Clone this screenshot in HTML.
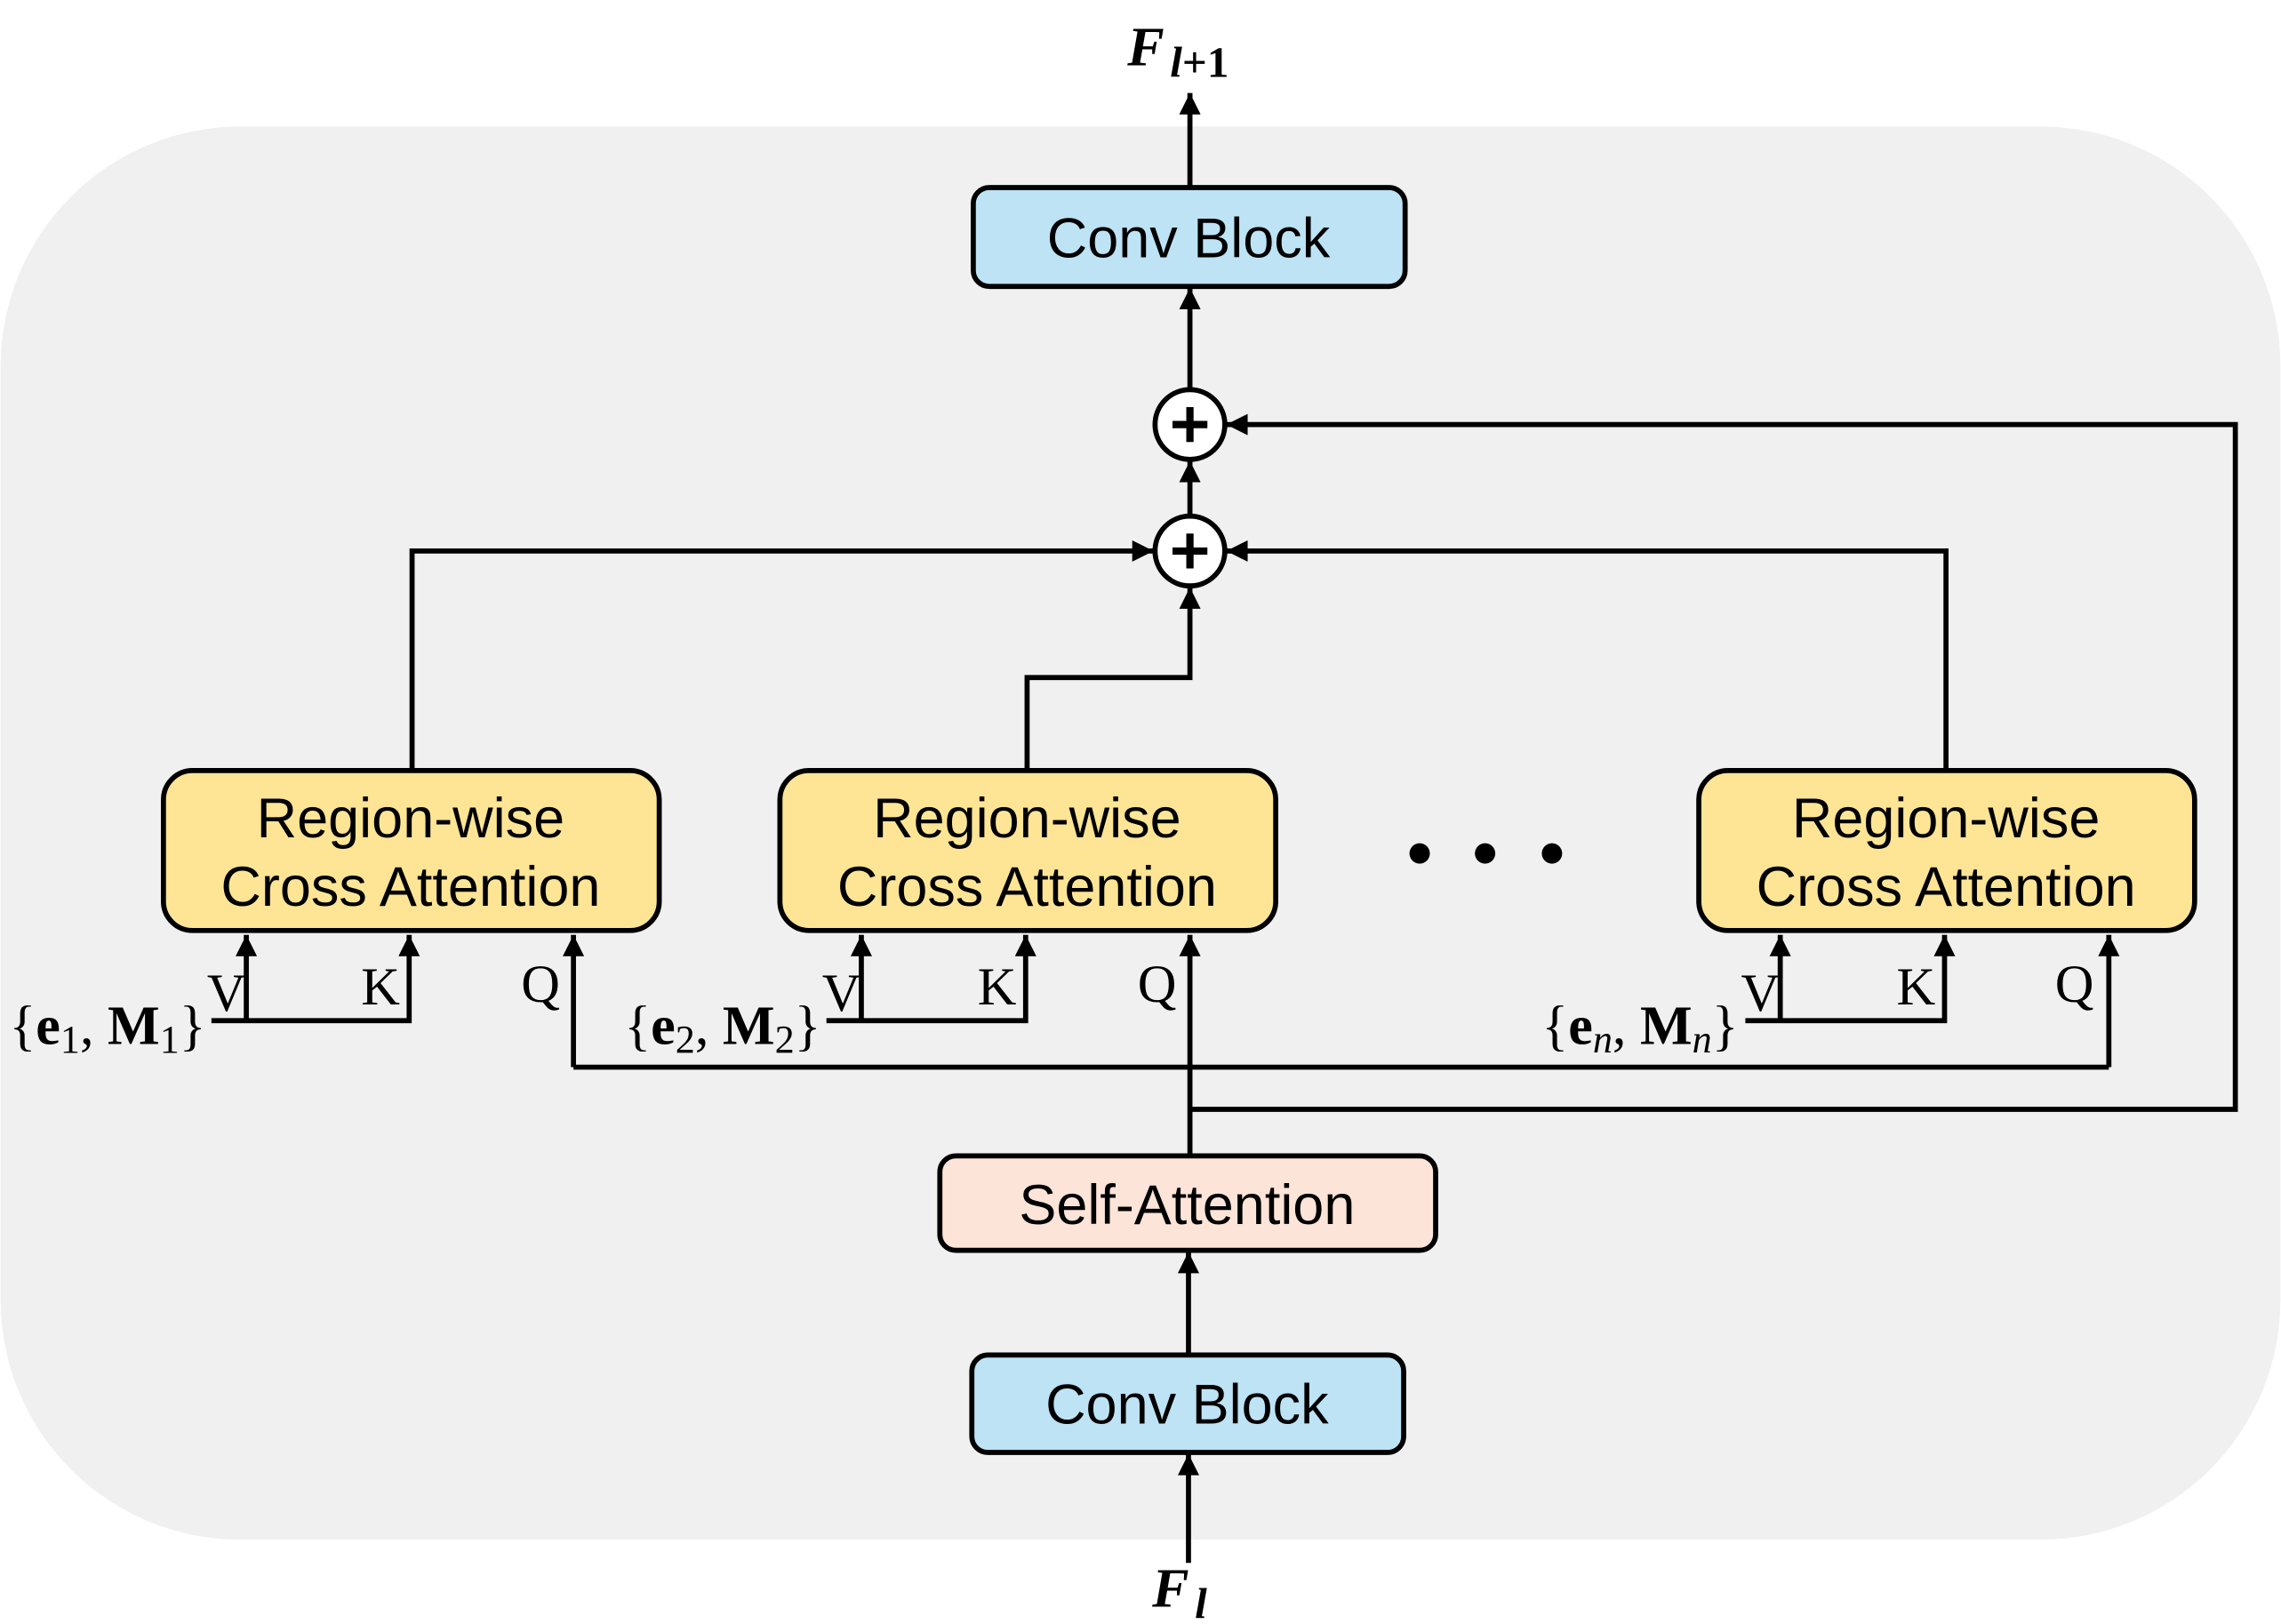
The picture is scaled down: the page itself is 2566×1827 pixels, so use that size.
<!DOCTYPE html>
<html><head><meta charset="utf-8"><style>
html,body{margin:0;padding:0;background:#fff;}
svg{display:block;}
.s{font-family:"Liberation Sans",sans-serif;font-size:38.5px;fill:#000;}
.m{font-family:"Liberation Serif",serif;fill:#000;}
</style></head><body>
<svg width="2566" height="1827" viewBox="0 0 1568 1117" xmlns="http://www.w3.org/2000/svg">
<defs>
<marker id="a" viewBox="0 0 10 10" refX="10" refY="5" markerWidth="4.6" markerHeight="4.2" orient="auto" markerUnits="strokeWidth">
<path d="M0,0 L10,5 L0,10 z" fill="#000"/></marker>
</defs>
<rect x="0" y="87" width="1568" height="972" rx="165" fill="#f0f0f0"/>
<g stroke="#000" stroke-width="3.5" fill="none">
<line x1="818" y1="129" x2="818" y2="64" marker-end="url(#a)"/>
<line x1="818" y1="268" x2="818" y2="198" marker-end="url(#a)"/>
<line x1="818" y1="355" x2="818" y2="317" marker-end="url(#a)"/>
<polyline points="283,530 283,379 793,379" marker-end="url(#a)"/>
<polyline points="706,530 706,466 818,466 818,404" marker-end="url(#a)"/>
<polyline points="1338,530 1338,379 843,379" marker-end="url(#a)"/>
<polyline points="818,763 1537,763 1537,292 843,292" marker-end="url(#a)"/>
<line x1="818" y1="795" x2="818" y2="643" marker-end="url(#a)"/>
<polyline points="394,734 1450,734"/>
<line x1="394" y1="734" x2="394" y2="643" marker-end="url(#a)"/>
<line x1="1450" y1="734" x2="1450" y2="643" marker-end="url(#a)"/>
<polyline points="145,702 281,702 281,643" marker-end="url(#a)"/>
<line x1="169" y1="702" x2="169" y2="643" marker-end="url(#a)"/>
<polyline points="568,702 705,702 705,643" marker-end="url(#a)"/>
<line x1="592" y1="702" x2="592" y2="643" marker-end="url(#a)"/>
<polyline points="1200,702 1337,702 1337,643" marker-end="url(#a)"/>
<line x1="1224" y1="702" x2="1224" y2="643" marker-end="url(#a)"/>
<line x1="817" y1="932" x2="817" y2="861" marker-end="url(#a)"/>
<line x1="817" y1="1075" x2="817" y2="1000" marker-end="url(#a)"/>
</g>
<g stroke="#000" stroke-width="3.5">
<rect x="669" y="129" width="297" height="68" rx="11" fill="#bde3f5"/>
<rect x="668" y="932" width="297" height="67" rx="11" fill="#bde3f5"/>
<rect x="646" y="795" width="341" height="65" rx="11" fill="#fce4d8"/>
<rect x="112" y="530" width="341" height="110" rx="20" fill="#fee595"/>
<rect x="536" y="530" width="341" height="110" rx="20" fill="#fee595"/>
<rect x="1168" y="530" width="341" height="110" rx="20" fill="#fee595"/>
<circle cx="818" cy="292" r="24" fill="#fff"/>
<circle cx="818" cy="379" r="24" fill="#fff"/>
</g>
<g stroke="#000" stroke-width="5">
<line x1="806" y1="292" x2="830" y2="292"/><line x1="818" y1="280" x2="818" y2="304"/>
<line x1="806" y1="379" x2="830" y2="379"/><line x1="818" y1="367" x2="818" y2="391"/>
</g>
<g fill="#000"><circle cx="976" cy="587" r="7"/><circle cx="1021" cy="587" r="7"/><circle cx="1067" cy="587" r="7"/></g>
<g class="s" text-anchor="middle">
<text x="817" y="177">Conv Block</text>
<text x="816" y="979">Conv Block</text>
<text x="816" y="842">Self-Attention</text>
<text x="282" y="576">Region-wise</text><text x="282" y="623">Cross Attention</text>
<text x="706" y="576">Region-wise</text><text x="706" y="623">Cross Attention</text>
<text x="1338" y="576">Region-wise</text><text x="1338" y="623">Cross Attention</text>
</g>
<g class="m" font-size="37">
<text x="142" y="695">V</text><text x="248" y="691">K</text><text x="358" y="689">Q</text>
<text x="565" y="695">V</text><text x="672" y="691">K</text><text x="782" y="689">Q</text>
<text x="1197" y="695">V</text><text x="1304" y="691">K</text><text x="1413" y="689">Q</text>
</g>
<g class="m" font-size="38">
<text x="6" y="718">{<tspan font-weight="bold">e</tspan><tspan font-size="27" dy="6">1</tspan><tspan dy="-6">, </tspan><tspan font-weight="bold">M</tspan><tspan font-size="27" dy="6">1</tspan><tspan dy="-6">}</tspan></text>
<text x="429" y="718">{<tspan font-weight="bold">e</tspan><tspan font-size="27" dy="6">2</tspan><tspan dy="-6">, </tspan><tspan font-weight="bold">M</tspan><tspan font-size="27" dy="6">2</tspan><tspan dy="-6">}</tspan></text>
<text x="1060" y="718">{<tspan font-weight="bold">e</tspan><tspan font-size="27" dy="6" font-style="italic">n</tspan><tspan dy="-6">, </tspan><tspan font-weight="bold">M</tspan><tspan font-size="27" dy="6" font-style="italic">n</tspan><tspan dy="-6">}</tspan></text>
<text x="775" y="45" font-weight="bold" font-style="italic" font-size="38">F<tspan font-size="30" dy="8" dx="4">l</tspan><tspan font-size="30" font-style="normal">+1</tspan></text>
<text x="792" y="1105" font-weight="bold" font-style="italic" font-size="38">F<tspan font-size="30" dy="8" dx="4">l</tspan></text>
</g>
</svg>
</body></html>
